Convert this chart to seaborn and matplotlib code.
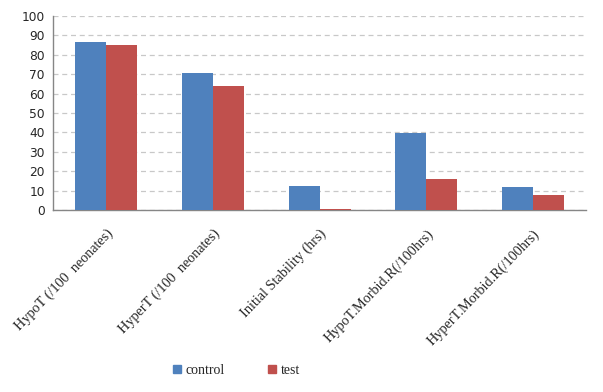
import matplotlib
matplotlib.use("Agg")
import matplotlib.pyplot as plt
import matplotlib.patches as mpatches
import seaborn as sns
import pandas as pd
import numpy as np

categories = ["HypoT (/100  neonates)", "HyperT (/100  neonates)", "Initial Stability (hrs)",
              "HypoT.Morbid.R(/100hrs)", "HyperT.Morbid.R(/100hrs)"]
control = [86.7, 70.7, 12.5, 39.7, 12.0]
test = [85.0, 64.1, 0.7, 16.1, 7.9]
series = ["control", "test"]
colors = ["#4F81BD", "#C0504D"]

df = pd.DataFrame({
    "category": categories * 2,
    "value": control + test,
    "series": ["control"] * len(categories) + ["test"] * len(categories),
})

sns.set_theme(style="white")
fig = plt.figure(figsize=(6.03, 3.92), dpi=100)
ax = fig.add_axes([0.088, 0.464, 0.884, 0.495])

sns.barplot(data=df, x="category", y="value", hue="series", order=categories,
            hue_order=series, palette=colors, width=0.58, saturation=1,
            linewidth=0, ax=ax, legend=False, zorder=3)

ax.set_xlim(-0.5, len(categories) - 0.5)
ax.set_ylim(0, 100)
ax.set_yticks(np.arange(0, 101, 10))
ax.yaxis.grid(True, linestyle=(0, (4, 3)), color="#C8C8C8", linewidth=0.9, zorder=0)
ax.xaxis.grid(False)

# category boundaries as major ticks, labels on minor ticks
ax.set_xticks(np.arange(-0.5, len(categories), 1.0))
ax.set_xticklabels([])
ax.set_xticks(np.arange(len(categories)), minor=True)
ax.set_xticklabels(categories, minor=True, rotation=46, ha="right", va="top",
                   rotation_mode="anchor",
                   fontfamily="Liberation Serif", fontsize=10.3)
ax.tick_params(axis="x", which="minor", length=0, pad=12)
ax.tick_params(axis="x", which="major", length=4, color="#868686", width=1, direction="out")
ax.tick_params(axis="y", length=4, color="#868686", width=1, direction="out", pad=2,
               labelsize=8.8)
for lab in ax.get_yticklabels():
    lab.set_fontfamily("DejaVu Sans")

ax.set_xlabel("")
ax.set_ylabel("")
for s in ["top", "right"]:
    ax.spines[s].set_visible(False)
for s in ["left", "bottom"]:
    ax.spines[s].set_color("#868686")
    ax.spines[s].set_linewidth(1)

handles = [mpatches.Patch(color=c, label=l) for c, l in zip(colors, series)]
fig.legend(handles=handles, loc="center", bbox_to_anchor=(0.392, 0.055), ncol=2,
           frameon=False, prop={"family": "Liberation Serif", "size": 10},
           handlelength=0.6, handleheight=0.6, handletextpad=0.3, columnspacing=3.1)

fig.savefig("out.png", dpi=100)
